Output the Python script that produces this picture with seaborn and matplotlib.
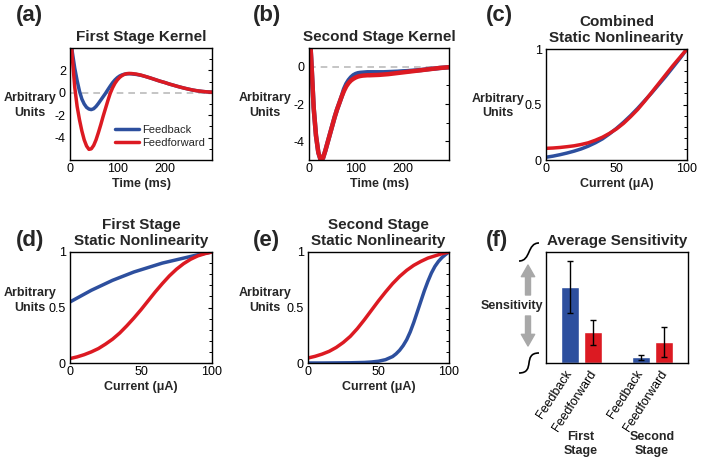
import numpy as np
import pandas as pd
import matplotlib
matplotlib.use("Agg")
import matplotlib.pyplot as plt
from matplotlib.path import Path
from matplotlib.patches import PathPatch, FancyArrowPatch
from matplotlib.ticker import MultipleLocator
import seaborn as sns

# ---- data ----
t_k = [0, 5, 10, 15, 20, 25, 30, 35, 40, 45, 50, 55, 60, 65, 70, 75, 80, 85, 90, 95,
       100, 105, 110, 115, 120, 125, 130, 140, 150, 160, 170, 180, 190, 200, 210, 220,
       230, 240, 250, 260, 270, 280, 290, 300]

k1_fb = [5.5, 3.6, 2.2, 1.1, 0.15, -0.55, -1.0, -1.3, -1.45, -1.5, -1.42, -1.22, -0.95, -0.65,
         -0.35, -0.05, 0.28, 0.6, 0.9, 1.15, 1.35, 1.5, 1.6, 1.66, 1.69, 1.7, 1.69, 1.64, 1.56,
         1.45, 1.32, 1.18, 1.04, 0.92, 0.78, 0.66, 0.54, 0.43, 0.33, 0.24, 0.17, 0.12, 0.08, 0.06]
k1_ff = [6.0, 3.1, 0.5, -1.2, -2.4, -3.4, -4.2, -4.75, -5.05, -5.0, -4.7, -4.2, -3.55, -2.85,
         -2.1, -1.4, -0.7, -0.05, 0.45, 0.85, 1.15, 1.38, 1.54, 1.65, 1.71, 1.73, 1.72, 1.67, 1.58,
         1.45, 1.32, 1.18, 1.04, 0.92, 0.78, 0.66, 0.54, 0.43, 0.33, 0.24, 0.17, 0.12, 0.08, 0.06]

k2_fb = [2.5, 0.3, -2.2, -3.7, -4.6, -5.0, -4.9, -4.5, -4.05, -3.6, -3.15, -2.7, -2.3, -1.95,
         -1.6, -1.2, -0.92, -0.72, -0.57, -0.46, -0.39, -0.35, -0.33, -0.32, -0.31, -0.3, -0.3,
         -0.3, -0.3, -0.3, -0.29, -0.28, -0.27, -0.25, -0.24, -0.22, -0.2, -0.18, -0.15, -0.12,
         -0.1, -0.07, -0.05, -0.03]
k2_ff = [2.5, 0.3, -2.2, -3.7, -4.6, -5.0, -4.9, -4.5, -4.05, -3.6, -3.15, -2.7, -2.3, -1.95,
         -1.6, -1.3, -1.05, -0.87, -0.74, -0.65, -0.58, -0.53, -0.5, -0.48, -0.47, -0.46, -0.46,
         -0.45, -0.44, -0.42, -0.4, -0.37, -0.34, -0.31, -0.28, -0.25, -0.22, -0.19, -0.16, -0.13,
         -0.1, -0.07, -0.05, -0.03]

current = [0, 5, 10, 15, 20, 25, 30, 35, 40, 45, 50, 55, 60, 65, 70, 75, 80, 85, 90, 95, 100]

comb_fb = [0.025, 0.035, 0.048, 0.063, 0.08, 0.1, 0.125, 0.155, 0.19, 0.235, 0.285, 0.34, 0.4,
           0.465, 0.535, 0.605, 0.68, 0.755, 0.835, 0.915, 1.0]
comb_ff = [0.105, 0.108, 0.113, 0.12, 0.128, 0.14, 0.155, 0.178, 0.205, 0.24, 0.28, 0.33, 0.39,
           0.455, 0.53, 0.61, 0.69, 0.77, 0.85, 0.925, 1.0]

nl1_fb = [0.55, 0.585, 0.62, 0.655, 0.685, 0.715, 0.745, 0.77, 0.795, 0.82, 0.84, 0.86, 0.88,
          0.9, 0.915, 0.93, 0.945, 0.96, 0.975, 0.988, 1.0]
nl1_ff = [0.04, 0.055, 0.075, 0.1, 0.13, 0.17, 0.215, 0.27, 0.335, 0.405, 0.48, 0.56, 0.64,
          0.715, 0.785, 0.845, 0.895, 0.935, 0.965, 0.985, 1.0]

# second-stage feedback rises steeply, so it is read at a finer step
current_fine = [0, 10, 20, 30, 40, 45, 50, 55, 60, 62.5, 65, 67.5, 70, 72.5, 75, 77.5, 80,
                82.5, 85, 87.5, 90, 92.5, 95, 97.5, 100]
nl2_fb = [0.0, 0.0, 0.001, 0.002, 0.005, 0.009, 0.016, 0.03, 0.058, 0.083, 0.115, 0.157, 0.21,
          0.28, 0.365, 0.46, 0.555, 0.65, 0.735, 0.81, 0.87, 0.915, 0.95, 0.977, 1.0]
nl2_ff = [0.045, 0.06, 0.08, 0.105, 0.14, 0.185, 0.24, 0.31, 0.39, 0.475, 0.56, 0.64, 0.715,
          0.78, 0.835, 0.88, 0.915, 0.945, 0.965, 0.985, 1.0]

bar_pos = [1, 2, 4, 5]
bar_cond = ["Feedback", "Feedforward", "Feedback", "Feedforward"]
bar_val = [0.76, 0.31, 0.06, 0.21]
bar_err = [0.26, 0.125, 0.025, 0.15]

conds = ["Feedback", "Feedforward"]
BLUE = "#2d4f9e"
RED = "#dc1a22"
pal = {"Feedback": BLUE, "Feedforward": RED}

sns.set_style("white")
plt.rcParams["font.family"] = ["Liberation Sans", "DejaVu Sans"]
plt.rcParams.update({
    "xtick.direction": "in", "ytick.direction": "in",
    "ytick.right": True, "ytick.minor.visible": True,
    "xtick.major.size": 3, "ytick.major.size": 3, "ytick.minor.size": 2,
    "xtick.major.width": 0.8, "ytick.major.width": 0.8, "ytick.minor.width": 0.7,
    "xtick.color": "black", "ytick.color": "black",
    "xtick.labelsize": 9, "ytick.labelsize": 9,
    "xtick.major.pad": 2, "ytick.major.pad": 3,
    "axes.edgecolor": "black", "axes.linewidth": 1.0,
})

W, H = 704, 465
fig = plt.figure(figsize=(W / 100, H / 100), dpi=100)


def add_ax(x0, y0, x1, y1):
    return fig.add_axes([x0 / W, 1 - y1 / H, (x1 - x0) / W, (y1 - y0) / H])


def long_df(x_fb, fb, x_ff, ff):
    return pd.DataFrame({"x": list(x_fb) + list(x_ff), "v": list(fb) + list(ff),
                         "cond": ["Feedback"] * len(fb) + ["Feedforward"] * len(ff)})


def curves(ax, x_fb, fb, x_ff, ff, lw=2.5, legend=False):
    sns.lineplot(data=long_df(x_fb, fb, x_ff, ff), x="x", y="v", hue="cond",
                 hue_order=conds, palette=pal, lw=lw, ax=ax, legend=legend, sort=False)


def side_label(ax, lines, xc, ys):
    # horizontal y-axis label, one text per line, placed in figure pixels
    ax.set_ylabel("")
    for line, y in zip(lines, ys):
        fig.text(xc / W, 1 - y / H, line, fontsize=9, fontweight="bold",
                 ha="center", va="center")


ax_a = add_ax(70, 48, 212, 160)
ax_b = add_ax(309, 48, 449, 160)
ax_c = add_ax(546, 49, 687, 160)
ax_d = add_ax(70, 252, 212, 363)
ax_e = add_ax(308, 252, 449, 363)
ax_f = add_ax(546, 252, 688, 363)

# (a)
ax_a.axhline(0, color="#bbbbbb", ls=(0, (4, 3)), lw=1.2, zorder=0)
curves(ax_a, t_k, k1_fb, t_k, k1_ff, legend=True)
ax_a.set_xlim(0, 300)
ax_a.set_ylim(-6, 4)
ax_a.set_xticks([0, 100, 200])
ax_a.set_yticks([-4, -2, 0, 2])
ax_a.set_yticklabels(["-4", "-2", "0", "2"])
ax_a.yaxis.set_minor_locator(MultipleLocator(1))
ax_a.set_title("First Stage Kernel", fontsize=11, fontweight="bold", pad=5)
ax_a.set_xlabel("Time (ms)", fontsize=9, fontweight="bold", labelpad=2)
side_label(ax_a, ["Arbitrary", "Units"], 30, [98, 113])
ax_a.legend(title=None, loc="lower right", bbox_to_anchor=(1.0, 0.05), frameon=False,
            fontsize=8, handlelength=2.2, handletextpad=0.3, labelspacing=0.25,
            borderaxespad=0.2)

# (b)
ax_b.axhline(0, color="#bbbbbb", ls=(0, (4, 3)), lw=1.2, zorder=0)
curves(ax_b, t_k, k2_fb, t_k, k2_ff, lw=3.2)
ax_b.set_xlim(0, 300)
ax_b.set_ylim(-5, 1)
ax_b.set_xticks([0, 100, 200])
ax_b.set_yticks([-4, -2, 0])
ax_b.set_yticklabels(["-4", "-2", "0"])
ax_b.yaxis.set_minor_locator(MultipleLocator(1))
ax_b.set_title("Second Stage Kernel", fontsize=11, fontweight="bold", pad=5)
ax_b.set_xlabel("Time (ms)", fontsize=9, fontweight="bold", labelpad=2)
side_label(ax_b, ["Arbitrary", "Units"], 265, [98, 113])

# (c), (d), (e)
for ax, xfb, fb, ff, title, lx, ly in [
        (ax_c, current, comb_fb, comb_ff, "Combined\nStatic Nonlinearity", 498, [99, 113]),
        (ax_d, current, nl1_fb, nl1_ff, "First Stage\nStatic Nonlinearity", 30, [293, 308]),
        (ax_e, current_fine, nl2_fb, nl2_ff, "Second Stage\nStatic Nonlinearity", 265, [293, 308])]:
    curves(ax, xfb, fb, current, ff)
    ax.set_xlim(0, 100)
    ax.set_ylim(0, 1)
    ax.set_xticks([0, 50, 100])
    ax.set_yticks([0, 0.5, 1])
    ax.set_yticklabels(["0", "0.5", "1"])
    ax.yaxis.set_minor_locator(MultipleLocator(0.1))
    ax.set_title(title, fontsize=11, fontweight="bold", pad=5, linespacing=1.2)
    ax.set_xlabel("Current (\u03bcA)", fontsize=9, fontweight="bold", labelpad=2)
    side_label(ax, ["Arbitrary", "Units"], lx, ly)

for ax in [ax_a, ax_b, ax_c, ax_d, ax_e]:
    ax.xaxis.set_minor_locator(plt.NullLocator())
    ax.tick_params(axis="x", which="both", top=False)

# (f)
sns.barplot(x=bar_pos, y=bar_val, hue=bar_cond, hue_order=conds, palette=pal,
            native_scale=True, dodge=False, width=0.75, saturation=1, errorbar=None,
            legend=False, ax=ax_f)
ax_f.errorbar(bar_pos, bar_val, yerr=bar_err, fmt="none", ecolor="black",
              elinewidth=1.0, capsize=2, capthick=1.0)
ax_f.set_xlim(0, 6)
ax_f.set_ylim(0, 1.11)
ax_f.set_yticks([])
ax_f.yaxis.set_minor_locator(plt.NullLocator())
ax_f.set_xticks(bar_pos)
ax_f.set_xticklabels(bar_cond, rotation=57, ha="right", va="center",
                     rotation_mode="anchor", fontsize=9)
ax_f.tick_params(axis="both", which="both", length=0, right=False, pad=6)
ax_f.set_title("Average Sensitivity", fontsize=11, fontweight="bold", pad=5)
ax_f.set_xlabel("")
side_label(ax_f, ["Sensitivity"], 512, [306])

fig.text(581 / W, 1 - 444 / H, "First\nStage", ha="center", va="center", fontsize=9,
         fontweight="bold", linespacing=1.2)
fig.text(652 / W, 1 - 444 / H, "Second\nStage", ha="center", va="center", fontsize=9,
         fontweight="bold", linespacing=1.2)

# gray double arrow beside the sensitivity label
arrow_kw = dict(arrowstyle="simple,head_width=0.8,head_length=0.7,tail_width=0.3",
                color="#a8a8a8", mutation_scale=12, shrinkA=0, shrinkB=0)
fig.patches.append(FancyArrowPatch((528 / W, 1 - 295 / H), (528 / W, 1 - 265 / H),
                                   transform=fig.transFigure, **arrow_kw))
fig.patches.append(FancyArrowPatch((528 / W, 1 - 316 / H), (528 / W, 1 - 346 / H),
                                   transform=fig.transFigure, **arrow_kw))


# scale-break squiggles
def squiggle(x0, y0, x1, y1, k):
    dx = x1 - x0
    verts = [(x0 / W, 1 - y0 / H), ((x0 + k * dx) / W, 1 - y0 / H),
             ((x1 - k * dx) / W, 1 - y1 / H), (x1 / W, 1 - y1 / H)]
    p = Path(verts, [Path.MOVETO, Path.CURVE4, Path.CURVE4, Path.CURVE4])
    fig.patches.append(PathPatch(p, transform=fig.transFigure, fill=False, lw=1.2,
                                 edgecolor="black"))


squiggle(519, 261, 539, 243, 0.6)
squiggle(519, 373, 539, 353, 0.85)

# panel letters
for lab, x, y in [("(a)", 16, 16), ("(b)", 253, 16), ("(c)", 486, 16),
                  ("(d)", 16, 240), ("(e)", 253, 240), ("(f)", 486, 240)]:
    fig.text(x / W, 1 - y / H, lab, fontsize=16, fontweight="bold", ha="left", va="center")

fig.savefig("out.png", dpi=100)
